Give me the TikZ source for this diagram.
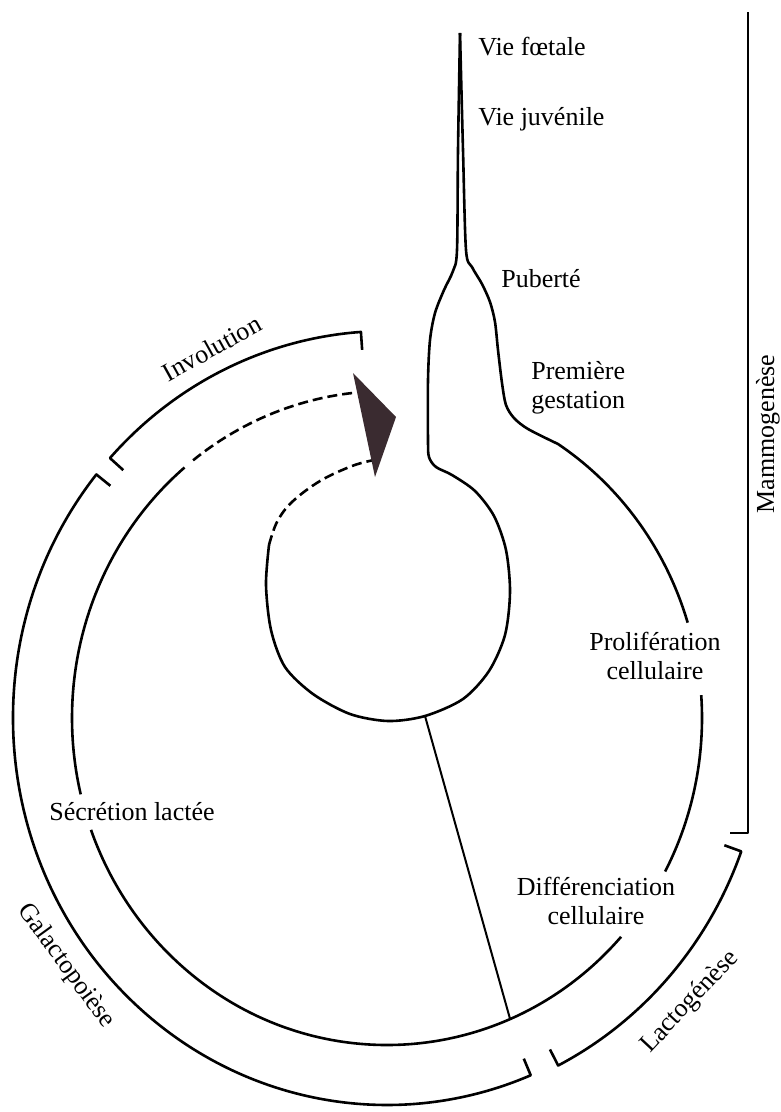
\documentclass[tikz,border=0pt]{standalone}
\usepackage{fontspec}
\setmainfont{Liberation Serif}
\usetikzlibrary{calc}

\definecolor{arrowbrown}{HTML}{3A2B30}

\begin{document}
\begin{tikzpicture}[x=1pt,y=1pt,line width=2.6pt,line join=round,
    lbl/.style={font=\fontsize{26}{29.5}\selectfont,inner sep=0pt},
    dashline/.style={dash pattern=on 10pt off 5pt},
    tilted/.style={lbl,anchor=center}]
    \useasboundingbox (0,0) rectangle (781,-1112);

    % centre of the two rings
    \coordinate (c) at (387,-718);

    % stem, left side of the neck and small loop
    \draw plot[smooth,tension=0.5] coordinates {(460,-33) (458,-150) (457,-250) (453,-271) (444,-290) (435,-313) (430,-340) (428,-380) (428,-440) (429,-457) (436,-467) (452,-475) (475,-491) (494,-516) (506,-550) (510,-592) (505,-635) (489,-671) (463,-699) (425,-716) (388,-721) (350,-714) (313,-694) (285,-667) (271,-630) (266,-585) (269,-545)};

    % stem, right side of the neck and big ring
    \draw plot[smooth,tension=0.5] coordinates {(460,-33) (463,-150) (466,-250) (472,-267) (482,-284) (490,-302) (495,-322) (498,-350) (502,-383) (506,-405) (514,-418) (528,-429) (558,-444)}
        arc[start angle=57,end angle=17,x radius=315pt,y radius=327pt];
    \draw ($(c)+(4:315pt and 327pt)$) arc[start angle=4,end angle=-28,x radius=315pt,y radius=327pt];
    \draw ($(c)+(-42:315pt and 327pt)$) arc[start angle=-42,end angle=-160,x radius=315pt,y radius=327pt];
    \draw ($(c)+(193.5:315pt and 327pt)$) arc[start angle=193.5,end angle=130,x radius=315pt,y radius=327pt];

    % involution (dashed)
    \draw[dashline] ($(c)+(128:315pt and 327pt)$) arc[start angle=128,end angle=96,x radius=315pt,y radius=327pt];
    \draw[dashline] plot[smooth,tension=0.6] coordinates {(269,-545) (277,-522) (292,-502) (320,-481) (352,-466) (374,-460)};
    \fill[arrowbrown] (353,-373) -- (396,-417) -- (375,-477) -- cycle;

    % link between loop and ring
    \coordinate (loopbot) at (425,-716);
    \coordinate (ringbot) at ($(c)+(-67:315pt and 327pt)$);
    \draw[line width=2pt] (loopbot) -- (ringbot);

    % brackets
    \draw ($(c)+(94:356pt and 369pt)$) -- ($(c)+(94:374pt and 387pt)$)
        arc[start angle=94,end angle=137.8,x radius=374pt,y radius=387pt]
        -- ($(c)+(137.8:356pt and 369pt)$);
    \draw ($(c)+(141:356pt and 369pt)$) -- ($(c)+(141:374pt and 387pt)$)
        arc[start angle=141,end angle=292.6,x radius=374pt,y radius=387pt]
        -- ($(c)+(292.6:356pt and 369pt)$);
    \draw ($(c)+(297:359pt and 372pt)$) -- ($(c)+(297:377pt and 390pt)$)
        arc[start angle=297,end angle=340,x radius=377pt,y radius=390pt]
        -- ($(c)+(340:359pt and 372pt)$);
    \draw (748,-12) -- (748,-833) -- (730,-833);

    % stage labels
    \node[lbl,anchor=base west] (foetal) at (477,-55) {Vie fœtale};
    \node[lbl,anchor=base west] (juvenile) at (477,-125) {Vie juvénile};
    \node[lbl,anchor=base west] (puberty) at (500,-287) {Puberté};
    \node[lbl,anchor=west,align=left] (gestation) at (530,-388) {Première\\gestation};
    \node[lbl,align=center] (prolif) at (655,-656) {Prolifération\\cellulaire};
    \node[lbl,align=center] (differ) at (596,-901) {Différenciation\\cellulaire};
    \node[lbl,anchor=base west] (secretion) at (48,-820) {Sécrétion lactée};

    % phase labels
    \node[lbl,anchor=base,rotate=90] (mammo) at (774,-434) {Mammogenèse};
    \node[tilted,rotate=29] (involution) at (212,-348) {Involution};
    \node[tilted,rotate=-54] (galacto) at (66,-966) {Galactopoièse};
    \node[tilted,rotate=47] (lacto) at (690,-1002) {Lactogénèse};
\end{tikzpicture}
\end{document}
